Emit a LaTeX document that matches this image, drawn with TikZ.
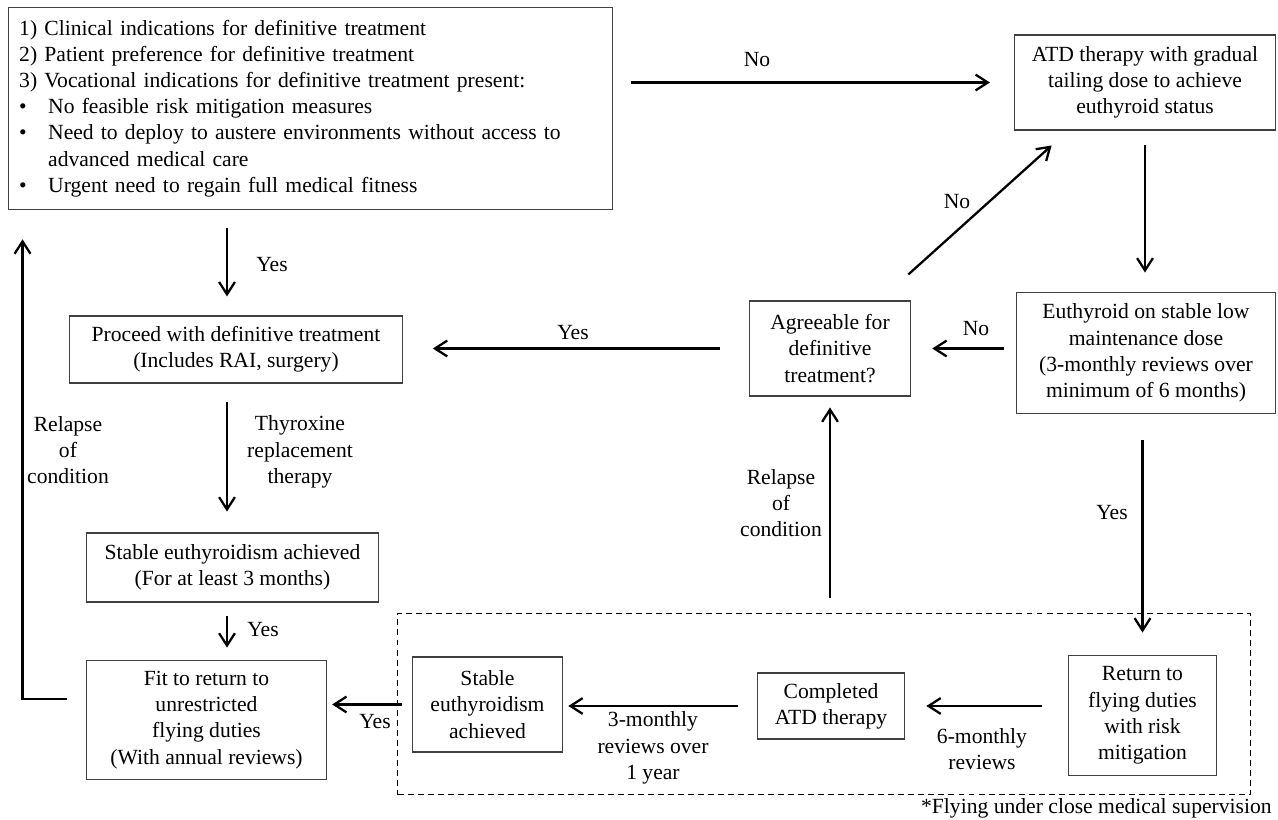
\documentclass[tikz,border=0pt]{standalone}
\usepackage{fontspec}
\setmainfont{Liberation Serif}
\usetikzlibrary{arrows.meta,positioning}
\definecolor{boxline}{HTML}{404040}
\newcommand{\fs}{\fontsize{12.3}{14.9}\selectfont}
\newcommand{\bul}{\makebox[16.5pt][l]{\textbullet}}
\tikzset{
  box/.style={draw=boxline, line width=0.8pt, align=center, inner sep=2pt, font=\fs},
  arr/.style={line width=1.3pt, -{Straight Barb[length=7pt,width=9pt]}},
  lbl/.style={align=center, font=\fs, inner sep=0pt},
}

\begin{document}
\begin{tikzpicture}[x=0.02cm, y=-0.02cm]
  \useasboundingbox (0,0) rectangle (1278,820);

  % Boxes
  \node[box, align=left, text width=331.6pt, inner xsep=6.2pt, minimum height=115.1pt] (crit) at (310.5,108.5)
    {1) Clinical indications for definitive treatment\\
     2) Patient preference for definitive treatment\\
     3) Vocational indications for definitive treatment present:\\
     \bul No feasible risk mitigation measures\\
     \bul Need to deploy to austere environments without access to\\
     \hspace*{16.5pt}advanced medical care\\
     \bul Urgent need to regain full medical fitness};
  \node[box, minimum width=148.5pt, minimum height=53.9pt] (atd) at (1145,82.5) {ATD therapy with gradual\\tailing dose to achieve\\euthyroid status};
  \node[box, minimum width=147.4pt, minimum height=69.2pt] (euth) at (1146,353) {Euthyroid on stable low\\maintenance dose\\(3-monthly reviews over\\minimum of 6 months)};
  \node[box, minimum width=91.8pt, minimum height=53.9pt] (agree) at (830,348.5) {Agreeable for\\definitive\\treatment?};
  \node[box, minimum width=189.3pt, minimum height=38pt] (proc) at (236,349.5) {Proceed with definitive treatment\\(Includes RAI, surgery)};
  \node[box, minimum width=166.1pt, minimum height=39.1pt] (stab) at (232.5,567.5) {Stable euthyroidism achieved\\(For at least 3 months)};
  \node[box, minimum width=136.6pt, minimum height=68pt] (fit) at (206.5,720) {Fit to return to\\unrestricted\\flying duties\\(With annual reviews)};

  % Supervised flying
  \node[draw, line width=0.8pt, dash pattern=on 3.4pt off 2.3pt, minimum width=485.3pt, minimum height=103.2pt] (flybox) at (824,704) {};
  \node[box, minimum width=85.6pt, minimum height=53.9pt] (stab2) at (487.5,704.5) {Stable\\euthyroidism\\achieved};
  \node[box, minimum width=83.9pt, minimum height=37.4pt] (compl) at (831,706) {Completed\\ATD therapy};
  \node[box, minimum width=84.5pt, minimum height=68.6pt] (ret) at (1142.5,715.5) {Return to\\flying duties\\with risk\\mitigation};
  \node[lbl, anchor=east] (note) at (1272,808) {*Flying under close medical supervision};

  % Arrows
  \coordinate (colL) at (227,0);
  \draw[arr, shorten <=10pt, shorten >=13.6pt] (crit.east |- atd.west) -- (atd.west);
  \draw[arr, shorten <=8.5pt, shorten >=10.8pt] (atd.south) -- (atd.south |- euth.north);
  \draw[arr, shorten <=6.8pt, shorten >=11.9pt] (euth.west |- agree.east) -- (agree.east);
  \draw[arr] ([xshift=-1.7pt,yshift=14.8pt]agree.north east) -- ([xshift=21.5pt,yshift=-8.5pt]atd.south west);
  \draw[arr, shorten <=16.4pt, shorten >=17pt] (agree.west) -- (proc.east |- agree.west);
  \draw[arr, shorten <=10.2pt, shorten >=10.8pt] (crit.south -| colL) -- (proc.north -| colL);
  \draw[arr, shorten <=10.2pt, shorten >=11.9pt] (proc.south -| colL) -- (stab.north -| colL);
  \draw[arr, shorten <=7.4pt, shorten >=6.8pt] (stab.south -| colL) -- (fit.north -| colL);
  \draw[arr, shorten >=16.5pt] ([xshift=-10.8pt,yshift=11.9pt]fit.west) -| ([xshift=8.5pt]crit.south west);
  \draw[arr, shorten <=5.7pt, shorten >=2.8pt] (stab2.west) -- (fit.east |- stab2.west);
  \draw[arr, shorten <=10.8pt, shorten >=2.8pt] (compl.west) -- (stab2.east |- compl.west);
  \draw[arr, shorten <=14.8pt, shorten >=11.9pt] (ret.west |- compl.east) -- (compl.east);
  \draw[arr, shorten <=14.8pt, shorten >=12.5pt] (euth.south -| ret.north) -- (ret.north);
  \draw[arr, shorten <=8.5pt, shorten >=6.2pt] (flybox.north -| agree.south) -- (agree.south);

  % Labels
  \node[lbl] (noA) at (757,60) {No};
  \node[lbl] (noB) at (957,202) {No};
  \node[lbl] (noC) at (976,329) {No};
  \node[lbl] (yesA) at (272,265) {Yes};
  \node[lbl] (yesB) at (573,333) {Yes};
  \node[lbl] (thyro) at (300,452) {Thyroxine\\replacement\\therapy};
  \node[lbl] (yesC) at (263,630) {Yes};
  \node[lbl] (relL) at (68,450) {Relapse\\of\\condition};
  \node[lbl] (yesD) at (375,722) {Yes};
  \node[lbl] (mon3) at (653,748) {3-monthly\\reviews over\\1 year};
  \node[lbl] (mon6) at (982,749) {6-monthly\\reviews};
  \node[lbl] (yesE) at (1112,513) {Yes};
  \node[lbl] (relR) at (781,503) {Relapse\\of\\condition};
\end{tikzpicture}
\end{document}
